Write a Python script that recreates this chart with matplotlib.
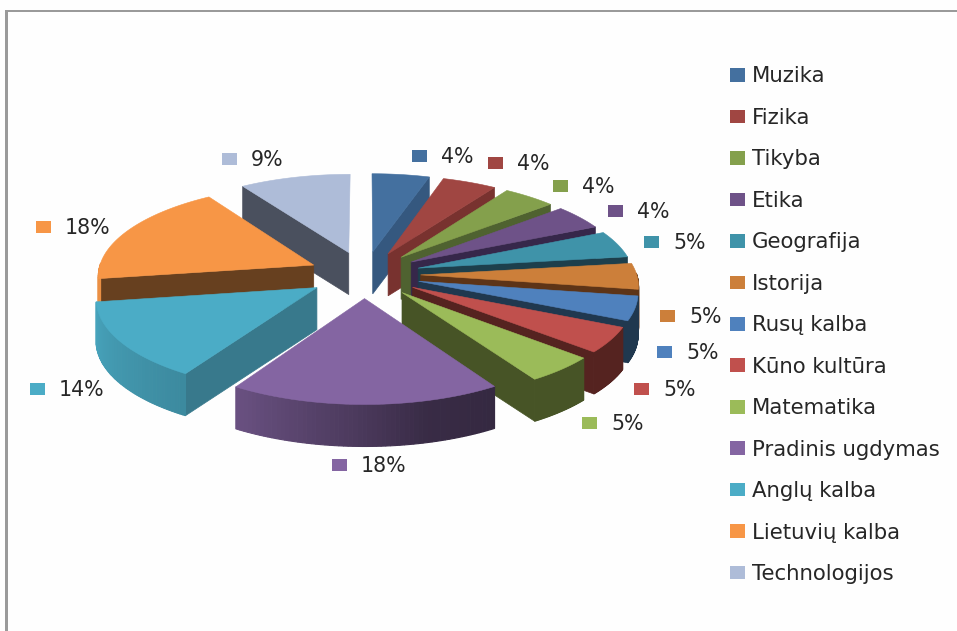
import numpy as np
import matplotlib
matplotlib.use('Agg')
import matplotlib.pyplot as plt
from matplotlib.patches import Polygon, Patch, Rectangle

subjects = ['Muzika', 'Fizika', 'Tikyba', 'Etika', 'Geografija', 'Istorija', 'Rusų kalba',
            'Kūno kultūra', 'Matematika', 'Pradinis ugdymas', 'Anglų kalba', 'Lietuvių kalba',
            'Technologijos']
shares = [4, 4, 4, 4, 5, 5, 5, 5, 5, 18, 14, 18, 9]

top_colors = ['#44709f', '#a04642', '#84a04c', '#6e5288', '#3f93a9', '#cc7f3a', '#4f81bd',
              '#c0504d', '#9bbb59', '#8465a2', '#4bacc6', '#f79646', '#aebcd8']
side_colors = ['#35587f', '#78322f', '#4f6230', '#36274a', '#1d3f4c', '#5d3417', '#20384f',
               '#552320', '#475426', '#382a48', '#38798c', '#67401f', '#4a505e']

# where the percent labels sit (square centre, pixels)
label_pos = [(419, 156), (495, 163), (560, 186), (615, 211), (651, 242), (667, 316), (664, 352),
             (641, 389), (589, 423), (339, 465), (37, 389), (43, 227), (229, 159)]

# projection of the tilted pie
cx, cy = 364.5, 274.5
rx, ry = 216, 90.2
persp = 0.0997
explode = 0.26
depth = 42


def project(X, Y):
    w = 1 + persp * Y
    return cx + rx * X / w, cy - ry * Y / w


def warp(a):
    # the 3d view does not keep angles, this bends them to match the picture
    d = np.interp(np.degrees(a), [0, 15, 30, 60, 90, 110, 130, 147, 180, 212, 262, 327, 360],
                  [0, 3, 5, 8, 6, 3, 1, 0, 0, -0.4, -1.5, -1, 0])
    return a + np.radians(d)


fig = plt.figure(figsize=(9.57, 6.31), dpi=100, facecolor='#fefefe')
ax = fig.add_axes([0, 0, 1, 1])
ax.set_xlim(0, 957)
ax.set_ylim(631, 0)
ax.axis('off')

# frame of the screenshot
ax.add_patch(Rectangle((5, 10), 2.5, 621, fc='#9a9a9a', ec='none'))
ax.add_patch(Rectangle((5, 10), 952, 1.5, fc='#9a9a9a', ec='none'))

bounds = np.cumsum([0] + shares) / sum(shares) * 2 * np.pi
mids = (bounds[:-1] + bounds[1:]) / 2

# paint far slices first
for i in np.argsort(-np.cos(mids)):
    raw = np.linspace(bounds[i], bounds[i + 1], 60)
    t = warp(raw)
    m = warp(mids[i])
    ox, oy = explode * np.sin(m), explode * np.cos(m)
    ax_x, ax_y = project(ox, oy)
    arc_x, arc_y = project(ox + np.sin(t), oy + np.cos(t))

    # cut faces
    if np.sin(t[0]) < -0.001:
        ax.add_patch(Polygon([(ax_x, ax_y), (arc_x[0], arc_y[0]), (arc_x[0], arc_y[0] + depth),
                              (ax_x, ax_y + depth)], fc=side_colors[i], ec=side_colors[i], lw=0.5))
    if np.sin(t[-1]) > 0.001:
        ax.add_patch(Polygon([(ax_x, ax_y), (arc_x[-1], arc_y[-1]), (arc_x[-1], arc_y[-1] + depth),
                              (ax_x, ax_y + depth)], fc=side_colors[i], ec=side_colors[i], lw=0.5))

    # outer wall, shaded by angle
    base = np.array(matplotlib.colors.to_rgb(top_colors[i]))
    for j in range(len(t) - 1):
        if np.cos(t[j]) > 0.02 and np.cos(t[j + 1]) > 0.02:
            continue
        deg = np.degrees(raw[j])
        if i < 9:
            col = side_colors[i]
        else:
            col = base * np.interp(deg, [147, 165, 180, 212, 262], [0.40, 0.43, 0.56, 0.8, 0.95])
        ax.add_patch(Polygon([(arc_x[j], arc_y[j]), (arc_x[j + 1], arc_y[j + 1]),
                              (arc_x[j + 1], arc_y[j + 1] + depth), (arc_x[j], arc_y[j] + depth)],
                             fc=col, ec=col, lw=0.8))

    # top face
    ax.add_patch(Polygon(np.r_[[(ax_x, ax_y)], np.c_[arc_x, arc_y]], fc=top_colors[i],
                         ec=top_colors[i], lw=0.4))

# percent labels
for i, (lx, ly) in enumerate(label_pos):
    ax.add_patch(Rectangle((lx - 7, ly - 6), 15, 12, fc=top_colors[i], ec='none'))
    ax.text(lx + 22, ly + 1, '%d%%' % shares[i], fontsize=14.8, color='#262626', ha='left', va='center')

handles = [Patch(fc=c, ec='none') for c in top_colors]
leg = ax.legend(handles, subjects, loc='upper left', bbox_to_anchor=(730 / 957, 1 - 66.5 / 631),
                frameon=False, fontsize=15.3, labelspacing=1.01, handlelength=0.71, handleheight=0.61,
                handletextpad=0.33, borderpad=0, borderaxespad=0, labelcolor='#262626')

fig.savefig('out.png', dpi=100, facecolor=fig.get_facecolor())
